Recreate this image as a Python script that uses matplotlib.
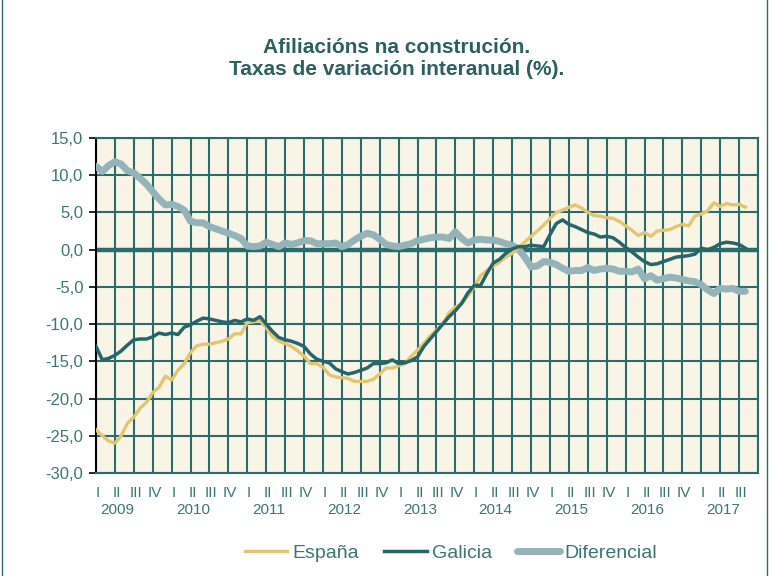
import matplotlib
matplotlib.use("Agg")
import matplotlib.pyplot as plt
import numpy as np

plt.rcParams['font.family'] = ['Liberation Sans', 'DejaVu Sans']

years = [2009, 2010, 2011, 2012, 2013, 2014, 2015, 2016, 2017]
quarters = ["I", "II", "III", "IV"]

espana = [-24.2, -25.0, -25.7, -26.0, -25.0, -23.3, -22.5, -21.3, -20.5, -19.2, -18.5, -17.0,
          -17.5, -16.2, -15.3, -13.8, -12.9, -12.7, -12.7, -12.5, -12.3, -12.0, -11.3, -11.3,
          -9.8, -9.7, -9.5, -10.5, -11.7, -12.3, -12.6, -13.0, -13.6, -14.3, -15.3, -15.3,
          -15.8, -16.8, -17.1, -17.2, -17.3, -17.7, -17.7, -17.7, -17.4, -16.7, -15.9, -15.9,
          -15.6, -15.3, -14.3, -13.5, -12.6, -11.6, -10.8, -10.0, -8.5, -7.7, -7.3, -6.2,
          -5.0, -3.5, -2.8, -2.2, -1.7, -1.0, -0.5, 0.3, 1.0, 1.8, 2.5, 3.3,
          4.2, 5.0, 5.3, 5.7, 6.0, 5.6, 5.0, 4.6, 4.5, 4.3, 4.2, 3.8,
          3.2, 2.6, 1.9, 2.3, 1.8, 2.5, 2.6, 2.7, 3.1, 3.4, 3.2, 4.5,
          4.8, 5.2, 6.3, 5.8, 6.2, 6.0, 6.1, 5.7]

galicia = [-13.0, -14.8, -14.6, -14.2, -13.6, -12.8, -12.1, -12.0, -12.0, -11.7, -11.2, -11.4,
           -11.2, -11.4, -10.4, -10.1, -9.6, -9.2, -9.3, -9.5, -9.7, -9.8, -9.5, -9.7,
           -9.3, -9.5, -9.0, -10.0, -11.0, -11.8, -12.1, -12.3, -12.6, -13.0, -14.0, -14.7,
           -15.0, -15.2, -16.0, -16.4, -16.7, -16.5, -16.2, -15.9, -15.3, -15.3, -15.2, -14.8,
           -15.3, -15.2, -14.9, -14.4, -13.0, -12.0, -11.0, -10.0, -9.0, -8.2, -7.2, -5.8,
           -4.8, -4.8, -3.2, -1.8, -1.3, -0.5, 0.1, 0.4, 0.4, 0.6, 0.5, 0.4,
           2.0, 3.5, 4.0, 3.4, 3.1, 2.7, 2.3, 2.1, 1.7, 1.8, 1.6, 1.0,
           0.3, -0.3, -1.0, -1.6, -2.0, -1.9, -1.6, -1.3, -1.0, -0.9, -0.8, -0.6,
           0.2, 0.0, 0.3, 0.8, 1.0, 0.9, 0.7, 0.2]

diferencial = [11.2, 10.5, 11.3, 11.8, 11.5, 10.6, 10.3, 9.6, 8.8, 7.8, 6.8, 6.0,
               6.1, 5.8, 5.3, 3.8, 3.6, 3.6, 3.1, 2.8, 2.5, 2.2, 1.9, 1.5,
               0.5, 0.4, 0.5, 1.0, 0.7, 0.4, 0.9, 0.7, 0.9, 1.2, 1.2, 0.8,
               0.8, 0.8, 0.9, 0.4, 0.7, 1.3, 1.8, 2.2, 2.0, 1.4, 0.7, 0.5,
               0.4, 0.6, 0.8, 1.2, 1.4, 1.6, 1.7, 1.7, 1.5, 2.4, 1.5, 0.9,
               1.3, 1.4, 1.3, 1.3, 1.1, 0.8, 0.6, 0.1, -1.0, -2.3, -2.2, -1.6,
               -1.7, -2.0, -2.5, -2.9, -2.8, -2.8, -2.4, -2.8, -2.6, -2.5, -2.6, -2.9,
               -2.9, -3.0, -2.6, -3.9, -3.5, -4.1, -3.9, -3.7, -3.8, -4.0, -4.2, -4.3,
               -4.7, -5.4, -5.9, -5.2, -5.3, -5.2, -5.6, -5.6]

teal = "#2A6B6C"
label_col = "#3B7676"
c_esp = "#E2C56E"
c_gal = "#24666A"
c_dif = "#95B4B9"

fig = plt.figure(figsize=(7.69, 5.76), dpi=100)
ax = fig.add_axes([96/769, 103/576, 662/769, 335/576])
ax.set_facecolor("#F8F4E6")

x = np.arange(len(espana))
n_months = 105
ax.set_xlim(0, n_months)
ax.set_ylim(-30, 15)

# grid
for q in range(0, n_months + 1, 3):
    ax.axvline(q, color=teal, lw=1.5, zorder=1)
for yv in range(-30, 16, 5):
    ax.axhline(yv, color=teal, lw=1.5, zorder=1)
ax.axhline(0, color=teal, lw=3.2, zorder=2)

ax.plot(x, diferencial, color=c_dif, lw=5.0, solid_capstyle='round', zorder=3, label="Diferencial")
ax.plot(x, espana, color=c_esp, lw=2.4, zorder=4, label="España")
ax.plot(x, galicia, color=c_gal, lw=2.5, zorder=5, label="Galicia")

ax.set_yticks(range(-30, 16, 5))
ax.set_yticklabels([f"{v:.1f}".replace(".", ",") for v in range(-30, 16, 5)],
                   color=label_col, fontsize=12)
ax.tick_params(axis='y', length=5, width=1.2, color='black', pad=4)
ax.set_xticks([])

for s in ['top', 'right', 'bottom']:
    ax.spines[s].set_color(teal)
    ax.spines[s].set_linewidth(1.5)
ax.spines['left'].set_color('black')
ax.spines['left'].set_linewidth(1.5)

trans = ax.get_xaxis_transform()
for i, yr in enumerate(years):
    for j, q in enumerate(quarters):
        m = i * 12 + j * 3
        if m >= n_months:
            continue
        ax.text(m + 0.3, -0.06, q, transform=trans, ha='center', va='center',
                color=label_col, fontsize=11, clip_on=False)
    ax.text(i * 12 + 3.4, -0.11, str(yr), transform=trans, ha='center', va='center',
            color=label_col, fontsize=11, clip_on=False)

fig.text(397/769, 1 - 58.5/576, "Afiliacións na construción.\nTaxas de variación interanual (%).",
         ha='center', va='center', fontsize=15, fontweight='bold', color="#2B5F60",
         linespacing=1.25)

handles, labels = ax.get_legend_handles_labels()
order = [1, 2, 0]
leg = fig.legend([handles[i] for i in order], [labels[i] for i in order],
                 loc='center', bbox_to_anchor=(451/769, 1 - 553/576), ncol=3, frameon=False,
                 fontsize=14, handlelength=2.2, handletextpad=0.25, columnspacing=1.3)
for t in leg.get_texts():
    t.set_color(label_col)

# figure side borders
fig.add_artist(plt.Line2D([0.002, 0.002], [0, 1], transform=fig.transFigure, color=teal, lw=1))
fig.add_artist(plt.Line2D([0.997, 0.997], [0, 1], transform=fig.transFigure, color=teal, lw=1))

fig.savefig("out.png", dpi=100)
